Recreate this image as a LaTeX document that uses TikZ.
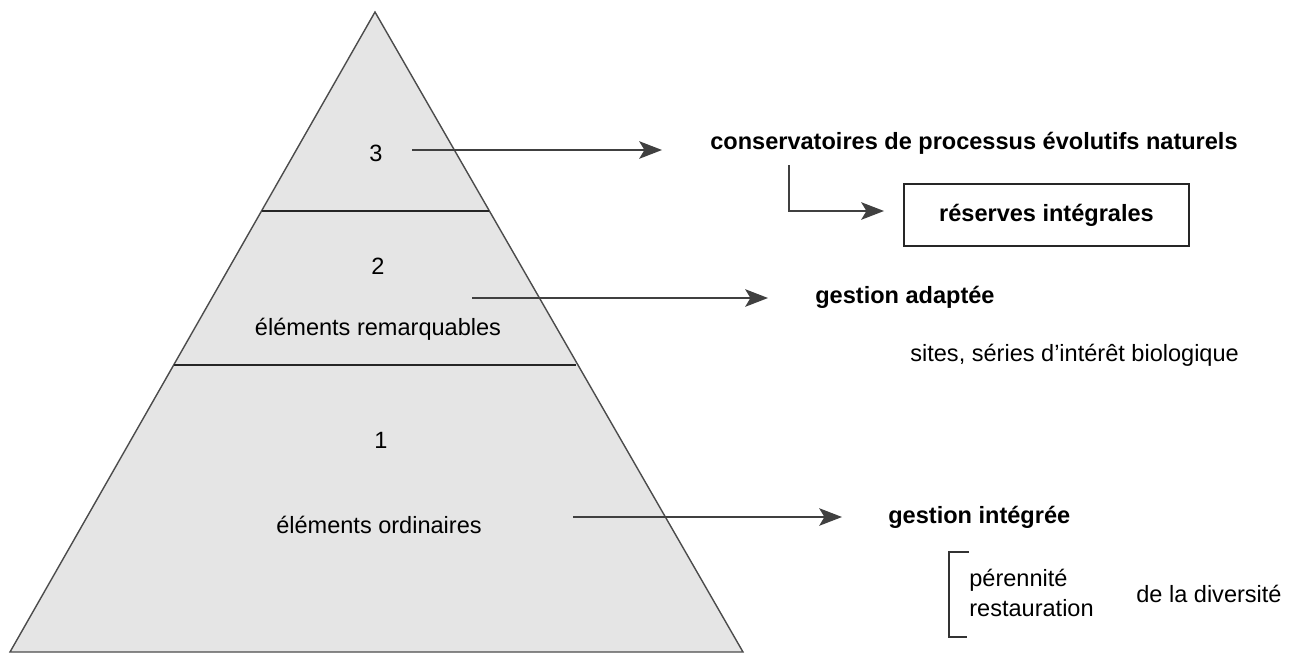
\documentclass[tikz,border=0pt]{standalone}
\usepackage{fontspec}
\setmainfont{Liberation Sans}
\usetikzlibrary{arrows.meta}
\begin{document}
\begin{tikzpicture}[x=0.02cm,y=-0.02cm,
  pyr/.style={draw=black!70,line width=0.8pt,fill=black!10,line join=miter},
  sep/.style={draw=black!85,line width=0.9pt},
  arr/.style={draw=black!75,line width=0.8pt,-{Stealth[length=13pt,width=10pt,inset=3pt]}},
  lbl/.style={inner sep=0pt,font=\fontsize{13.4}{16}\selectfont},
  blbl/.style={inner sep=0pt,font=\fontsize{13.4}{16}\selectfont\bfseries},
  tbox/.style={draw=black!85,line width=0.8pt,minimum width=285*0.02cm,minimum height=62*0.02cm,inner sep=0pt,font=\fontsize{13.4}{16}\selectfont\bfseries}]
\useasboundingbox (0,0) rectangle (1301,653);
% pyramid
\coordinate (apex) at (375,12);
\coordinate (bl) at (10,652);
\coordinate (br) at (743,652);
\draw[pyr] (apex) -- (br) -- (bl) -- cycle;
\coordinate (l3) at (261.5,211);
\coordinate (r3) at (488.5,211);
\coordinate (l2) at (173.7,365);
\coordinate (r2) at (576.3,365);
\draw[sep] (l3) -- (r3);
\draw[sep] (l2) -- (r2);
% labels in pyramid
\node[lbl] (n3) at (376,153) {3};
\node[lbl] (n2) at (378,266) {2};
\node[lbl] (er) at (378,329) {éléments remarquables};
\node[lbl] (n1) at (381,440) {1};
\node[lbl] (eo) at (379,525) {éléments ordinaires};
% right side
\node[blbl,anchor=west] (cons) at (710,143) {conservatoires de processus évolutifs naturels};
\node[tbox] (res) at (1046.5,215) {réserves intégrales};
\node[blbl,anchor=west] (ga) at (815,297) {gestion adaptée};
\node[lbl,anchor=west] (sites) at (910,355) {sites, séries d'intérêt biologique};
\node[blbl,anchor=west] (gi) at (888,517) {gestion intégrée};
\node[lbl,anchor=west] (per) at (969,580) {pérennité};
\node[lbl,anchor=west] (rest) at (969,608) {restauration};
\node[lbl,anchor=west] (div) at (1136,594) {de la diversité};
% arrows
\coordinate (a3s) at (412,150);
\coordinate (a3e) at (662,150);
\draw[arr] (a3s) -- (a3e);
\coordinate (a2s) at (472,298);
\coordinate (a2e) at (768,298);
\draw[arr] (a2s) -- (a2e);
\coordinate (a1s) at (573,517);
\coordinate (a1e) at (842,517);
\draw[arr] (a1s) -- (a1e);
\coordinate (cs) at (789,165);
\coordinate (ce) at (884,211);
\draw[arr] (cs) |- (ce);
% bracket
\coordinate (bt) at (969,552);
\coordinate (bb) at (967,637);
\draw[draw=black!80,line width=0.8pt] (bt) -| (949,637) -- (bb);
\end{tikzpicture}
\end{document}
